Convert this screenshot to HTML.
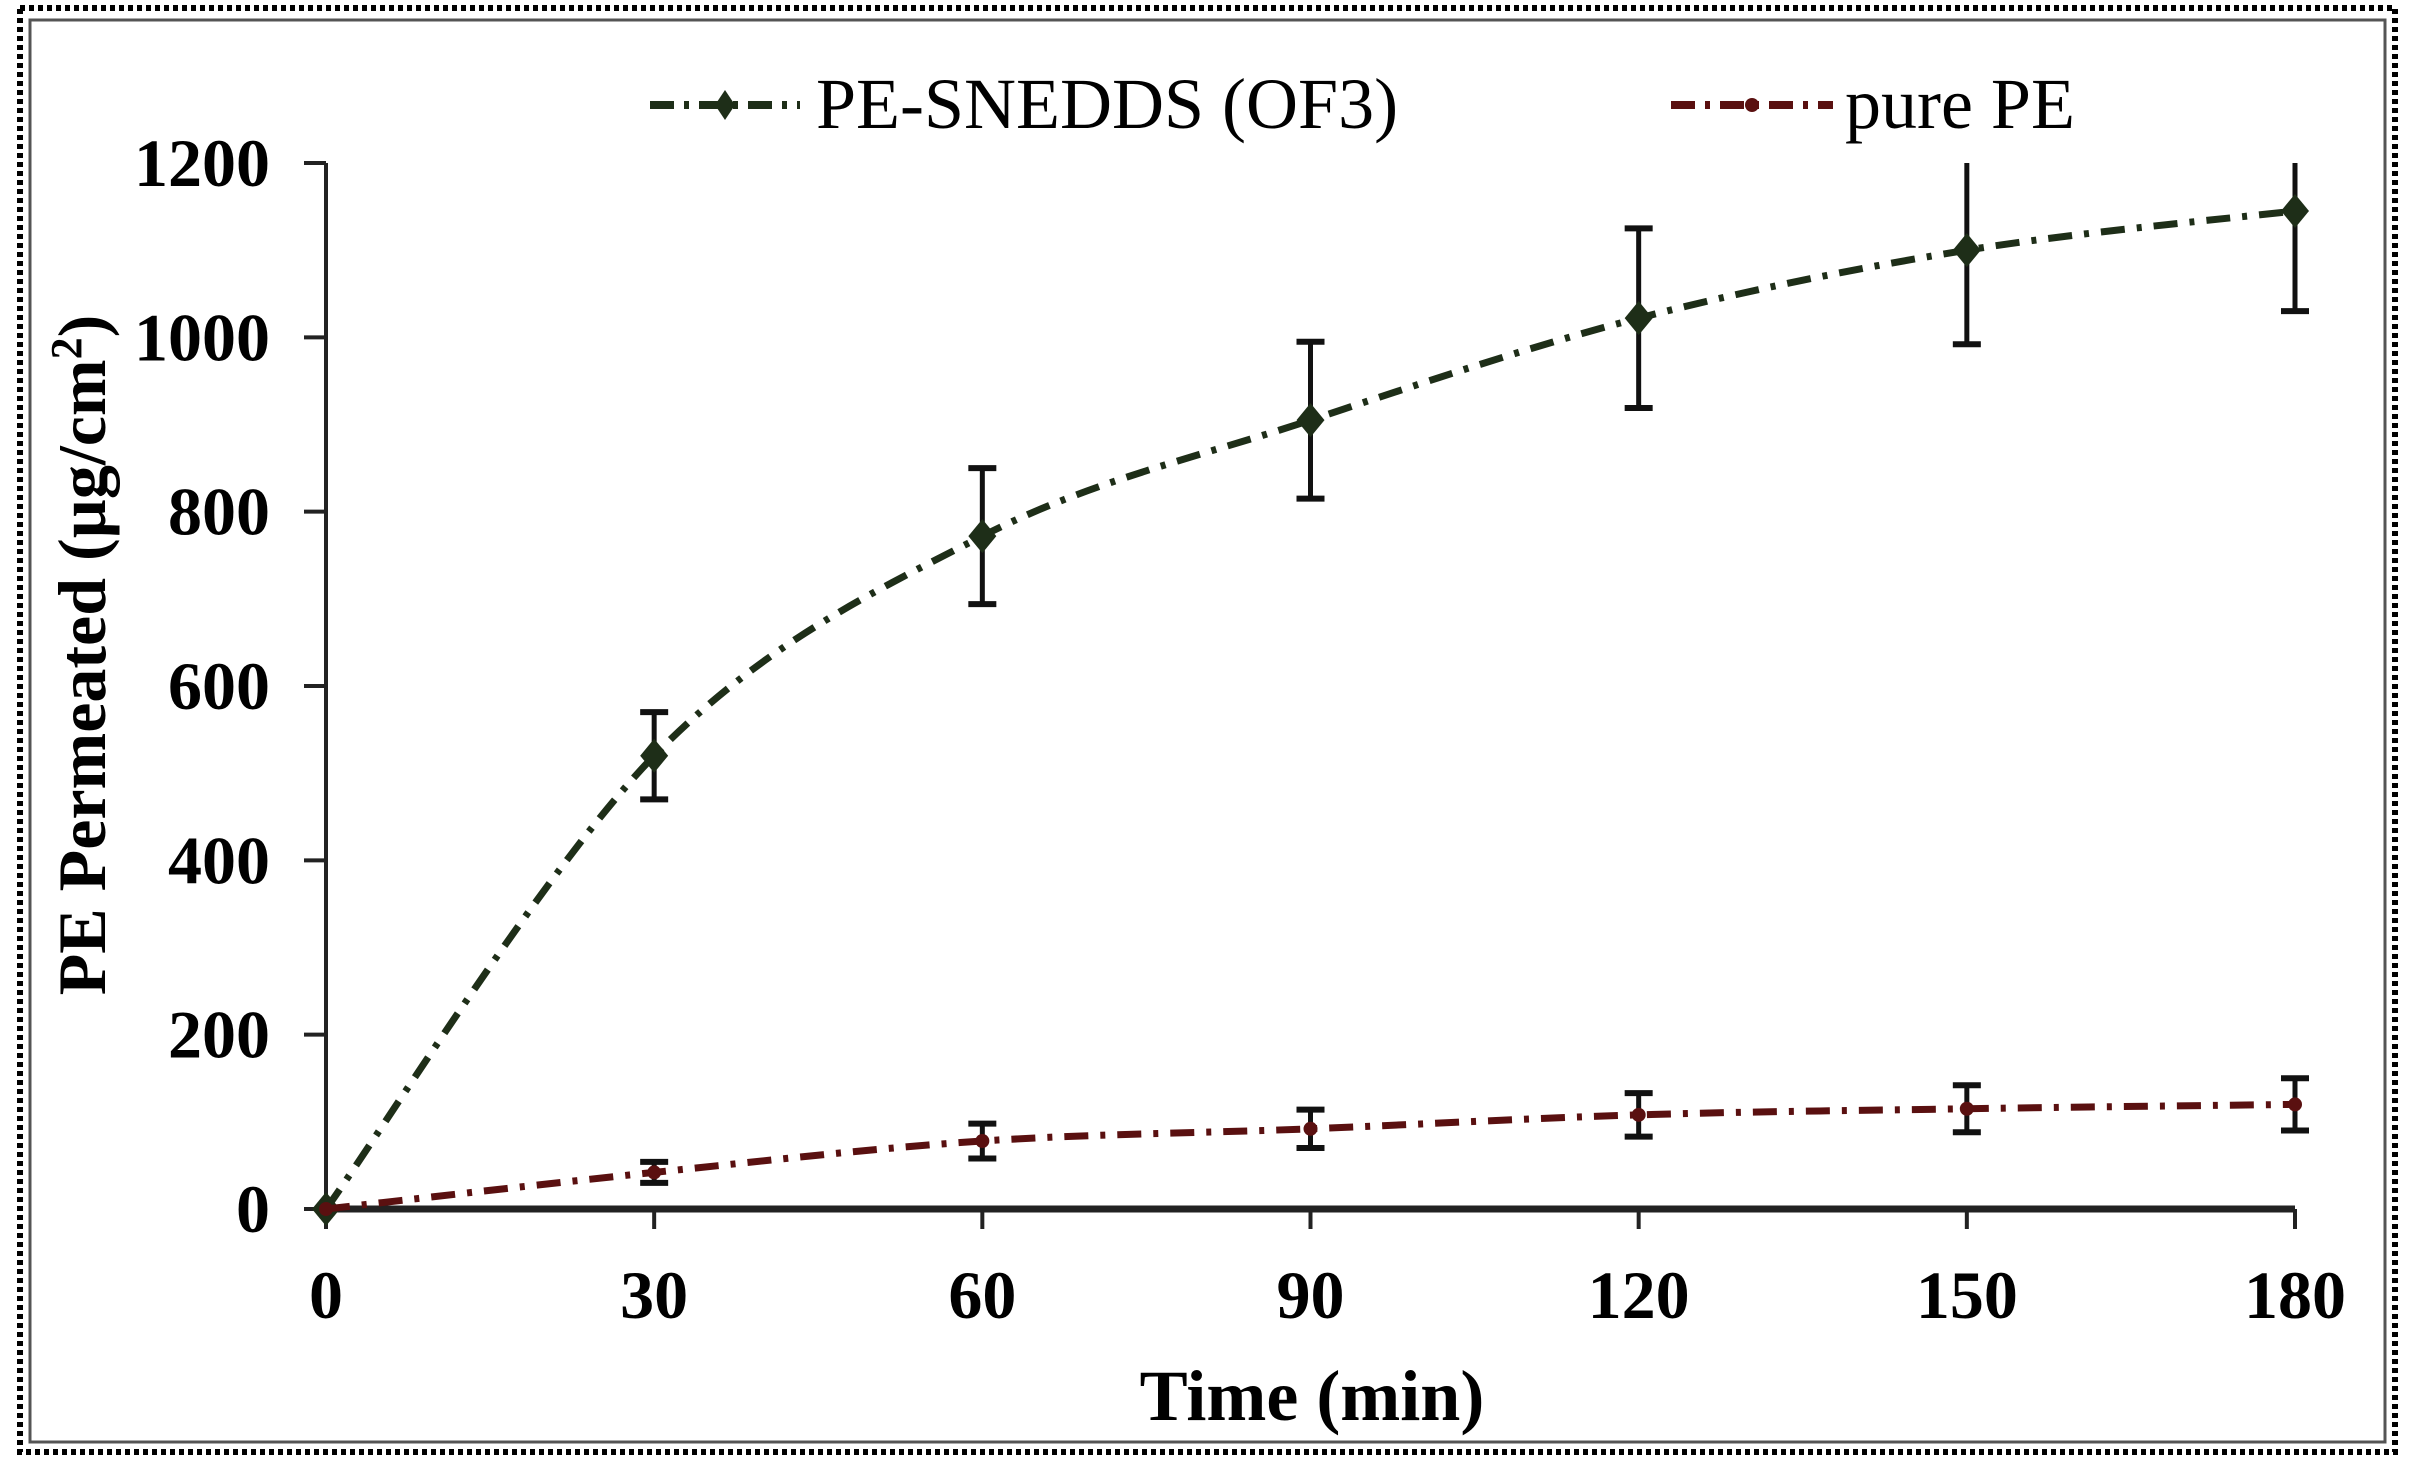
<!DOCTYPE html>
<html><head><meta charset="utf-8"><style>
html,body{margin:0;padding:0;background:#fff}
svg{display:block}
text{font-family:"Liberation Serif",serif;fill:#000}
</style></head><body>
<svg id="chart" width="2415" height="1477" viewBox="0 0 2415 1477">
<rect x="20" y="8" width="2375" height="1444" fill="none" stroke="#000" stroke-width="6" stroke-dasharray="5,4"/>
<rect x="30" y="20" width="2355" height="1422" fill="none" stroke="#555" stroke-width="3"/>
<g id="axes"></g>
<g id="series"></g>
<g>
  <g>
    <line x1="650" y1="105" x2="800" y2="105" stroke="#1e2e18" stroke-width="8" stroke-dasharray="24,10,5,10"/>
    <path d="M725 90 L735 105 L725 120 L715 105Z" fill="#1e2e18"/>
    <text x="816" y="128" font-size="72">PE-SNEDDS (OF3)</text>
  </g>
  <g>
    <line x1="1671" y1="105" x2="1833" y2="105" stroke="#5a1010" stroke-width="8" stroke-dasharray="24,10,5,10"/>
    <circle cx="1752" cy="105" r="7" fill="#5a1010"/>
    <text x="1845" y="128" font-size="72">pure PE</text>
  </g>
</g>
<text x="1312" y="1420" font-size="72" font-weight="bold" text-anchor="middle">Time (min)</text>
<text transform="translate(105,655) rotate(-90)" font-size="68" font-weight="bold" text-anchor="middle">PE Permeated (µg/cm<tspan dy="-24" font-size="44">2</tspan><tspan dy="24">)</tspan></text>
</svg>
<script>
const times = [0, 30, 60, 90, 120, 150, 180];
const sneddsValues = [0, 520, 772, 905, 1022, 1100, 1145];
const sneddsErrors = [0, 50, 78, 90, 103, 108, 115];
const pureValues = [0, 42, 78, 92, 108, 115, 120];
const pureErrors = [0, 12, 20, 22, 25, 27, 30];
const xTicks = [0, 30, 60, 90, 120, 150, 180];
const yTicks = [0, 200, 400, 600, 800, 1000, 1200];

const NS = "http://www.w3.org/2000/svg";
const X0 = 326, X1 = 2295, Y0 = 1209, Y1 = 163;
const xs = v => X0 + (v - 0) / 180 * (X1 - X0);
const ys = v => Y0 - (v - 0) / 1200 * (Y0 - Y1);
function mk(tag, attrs, parent) {
  const e = document.createElementNS(NS, tag);
  for (const k in attrs) e.setAttribute(k, attrs[k]);
  parent.appendChild(e);
  return e;
}
const axes = document.getElementById('axes');
const series = document.getElementById('series');

const yAxis = mk('line', {x1: X0, y1: Y1, x2: X0, y2: Y0, stroke: '#222', 'stroke-width': 4}, axes);


const xAxis = mk('line', {x1: X0, y1: Y0, x2: X1, y2: Y0, stroke: '#222', 'stroke-width': 7}, axes);



yTicks.forEach(t => {
  const tk = mk('line', {x1: X0 - 22, y1: ys(t), x2: X0, y2: ys(t), stroke: '#222', 'stroke-width': 4}, axes);
  
  
  const lb = mk('text', {x: 270, y: ys(t) + 23, 'font-size': 68, 'font-weight': 'bold', 'text-anchor': 'end'}, axes);
  lb.textContent = t;
  
  
});
xTicks.forEach(t => {
  const tk = mk('line', {x1: xs(t), y1: Y0, x2: xs(t), y2: Y0 + 20, stroke: '#222', 'stroke-width': 4}, axes);
  
  
  const lb = mk('text', {x: xs(t), y: 1318, 'font-size': 68, 'font-weight': 'bold', 'text-anchor': 'middle'}, axes);
  lb.textContent = t;
  
  
});

function smoothPath(pts) {
  let d = `M${pts[0][0]},${pts[0][1]}`;
  for (let i = 0; i < pts.length - 1; i++) {
    const p0 = pts[i - 1] || pts[i], p1 = pts[i], p2 = pts[i + 1], p3 = pts[i + 2] || p2;
    const c1 = [p1[0] + (p2[0] - p0[0]) / 6, p1[1] + (p2[1] - p0[1]) / 6];
    const c2 = [p2[0] - (p3[0] - p1[0]) / 6, p2[1] - (p3[1] - p1[1]) / 6];
    d += ` C${c1[0]},${c1[1]} ${c2[0]},${c2[1]} ${p2[0]},${p2[1]}`;
  }
  return d;
}
function drawSeries(vals, errs, color, marker, name) {
  const g = mk('g', {}, series);
  
  
  vals.forEach((v, i) => {
    if (i === 0) return;
    const x = xs(times[i]);
    const top = Math.min(v + errs[i], 1200), bot = v - errs[i];
    const eb = mk('line', {x1: x, y1: ys(top), x2: x, y2: ys(bot), stroke: '#111', 'stroke-width': 5}, g);
    
    
    mk('line', {x1: x - 14, y1: ys(bot), x2: x + 14, y2: ys(bot), stroke: '#111', 'stroke-width': 6}, g);
    if (v + errs[i] <= 1200) mk('line', {x1: x - 14, y1: ys(top), x2: x + 14, y2: ys(top), stroke: '#111', 'stroke-width': 6}, g);
  });
  const pts = vals.map((v, i) => [xs(times[i]), ys(v)]);
  const ln = mk('path', {d: smoothPath(pts), fill: 'none', stroke: color, 'stroke-width': 7, 'stroke-dasharray': '24,12,5,12'}, g);
  
  
  pts.forEach(p => {
    let m;
    if (marker === 'diamond') m = mk('path', {d: `M${p[0]},${p[1] - 17} L${p[0] + 14},${p[1]} L${p[0]},${p[1] + 17} L${p[0] - 14},${p[1]}Z`, fill: color}, g);
    else m = mk('circle', {cx: p[0], cy: p[1], r: 7, fill: color}, g);
    
    
  });
}
drawSeries(sneddsValues, sneddsErrors, '#1e2e18', 'diamond', 'snedds');
drawSeries(pureValues, pureErrors, '#5a1010', 'circle', 'pure-pe');
</script>
</body></html>
